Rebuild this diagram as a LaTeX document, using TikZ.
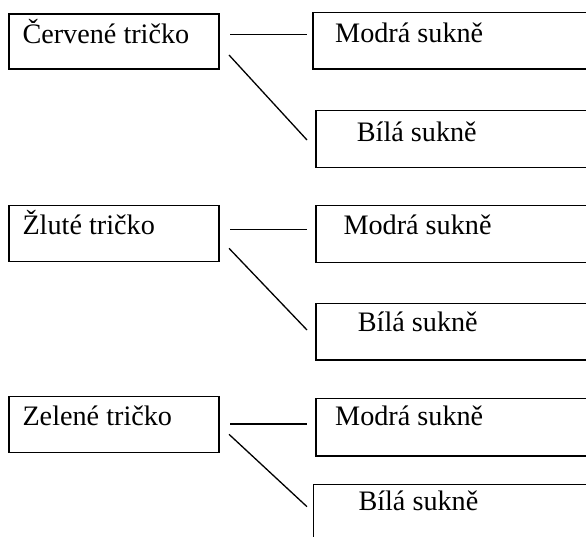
\documentclass[tikz,border=0pt]{standalone}
\usepackage{fontspec}
\setmainfont{Liberation Serif}
\usetikzlibrary{calc}
\begin{document}
\begin{tikzpicture}[x=1pt,y=-1pt,
  box/.style={draw, rectangle, line width=1.4pt, inner sep=0pt, outer sep=0pt, anchor=north west},
  lbl/.style={inner sep=0pt, anchor=base west, font=\fontsize{28.2}{30}\selectfont},
  conn/.style={line width=1.3pt}]
\useasboundingbox (0,0) rectangle (586,537);
\clip (0,0) rectangle (586,537);
\fill[white] (0,0) rectangle (586,537);
% group 1
\node[box, minimum width=210pt, minimum height=55pt] (c1) at (9,14) {};
\node[box, minimum width=287pt, minimum height=56.7pt] (m1) at (313,12.3) {};
\node[box, minimum width=284pt, minimum height=57pt] (b1) at (316,110.7) {};
\node[lbl] (tc1) at (22.3,43.3) {Červené tričko};
\node[lbl] (tm1) at (335,42.7) {Modrá sukně};
\node[lbl] (tb1) at (356.7,141.7) {Bílá sukně};
\draw[conn] ($(c1.north east)+(11,20.7)$) coordinate (h1s) -- ($(m1.north west)+(-6,22.4)$) coordinate (h1e);
\draw[conn] ($(c1.north east)+(10,41)$) coordinate (d1s) -- ($(b1.north west)+(-9,29.3)$) coordinate (d1e);
% group 2
\node[box, minimum width=210pt, minimum height=55.6pt] (c2) at (9,205.7) {};
\node[box, minimum width=284pt, minimum height=57pt] (m2) at (316,205.7) {};
\node[box, minimum width=284pt, minimum height=56.7pt] (b2) at (316,303.3) {};
\node[lbl] (tc2) at (22.3,235) {Žluté tričko};
\node[lbl] (tm2) at (343.3,235) {Modrá sukně};
\node[lbl] (tb2) at (357.7,331.7) {Bílá sukně};
\draw[conn] ($(c2.north east)+(11,23.6)$) coordinate (h2s) -- ($(m2.north west)+(-9,23.6)$) coordinate (h2e);
\draw[conn] ($(c2.north east)+(10,42.6)$) coordinate (d2s) -- ($(b2.north west)+(-9,26.7)$) coordinate (d2e);
% group 3
\node[box, minimum width=210pt, minimum height=55.6pt] (c3) at (9,396.7) {};
\node[box, minimum width=284pt, minimum height=57.7pt] (m3) at (316,398.3) {};
\node[box, minimum width=287pt, minimum height=80pt] (b3) at (313.3,484.3) {};
\node[lbl] (tc3) at (22.3,425) {Zelené tričko};
\node[lbl] (tm3) at (335,425) {Modrá sukně};
\node[lbl] (tb3) at (358.3,510) {Bílá sukně};
\draw[conn] ($(c3.north east)+(11,27.3)$) coordinate (h3s) -- ($(m3.north west)+(-9,25.7)$) coordinate (h3e);
\draw[conn] ($(c3.north east)+(10,37.6)$) coordinate (d3s) -- ($(b3.north west)+(-6.3,22.4)$) coordinate (d3e);
\end{tikzpicture}
\end{document}
